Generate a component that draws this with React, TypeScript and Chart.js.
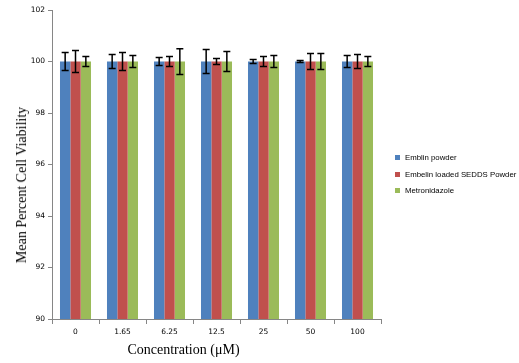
import React, { useEffect, useRef } from "react";
import { Chart, registerables } from "chart.js";

Chart.register(...registerables);

const categories = ["0", "1.65", "6.25", "12.5", "25", "50", "100"];
const seriesNames = ["Emblin powder", "Embelin loaded SEDDS Powder", "Metronidazole"];
const seriesColors = ["#4F81BD", "#C0504D", "#9BBB59"];

const emblinPowder = [100, 100, 100, 100, 100, 100, 100];
const embelinSedds = [100, 100, 100, 100, 100, 100, 100];
const metronidazole = [100, 100, 100, 100, 100, 100, 100];

const emblinPowderErr = [0.35, 0.27, 0.16, 0.47, 0.08, 0.04, 0.23];
const embelinSeddsErr = [0.43, 0.35, 0.19, 0.12, 0.19, 0.31, 0.27];
const metronidazoleErr = [0.19, 0.23, 0.5, 0.39, 0.23, 0.31, 0.19];

const yTicks = [90, 92, 94, 96, 98, 100, 102];

const seriesValues = [emblinPowder, embelinSedds, metronidazole];
const seriesErrors = [emblinPowderErr, embelinSeddsErr, metronidazoleErr];

const errorBarPlugin = {
  id: "errorBars",
  afterDatasetsDraw(chart: any) {
    const ctx = chart.ctx;
    const y = chart.scales.y;
    chart.data.datasets.forEach((ds: any, i: number) => {
      const meta = chart.getDatasetMeta(i);
      meta.data.forEach((bar: any, j: number) => {
        const v = ds.data[j];
        const e = ds.errors[j];
        const x = bar.x;
        const yt = y.getPixelForValue(v + e);
        const yb = y.getPixelForValue(v - e);
        ctx.save();
        ctx.strokeStyle = "#000";
        ctx.lineWidth = 1.5;
        ctx.beginPath();
        ctx.moveTo(x, yt);
        ctx.lineTo(x, yb);
        ctx.moveTo(x - 3.5, yt);
        ctx.lineTo(x + 3.5, yt);
        ctx.moveTo(x - 3.5, yb);
        ctx.lineTo(x + 3.5, yb);
        ctx.stroke();
        ctx.restore();
      });
    });
  },
};

export default function App() {
  const canvasRef = useRef<HTMLCanvasElement | null>(null);

  useEffect(() => {
    document.body.style.margin = "0";
    const tickFont = { family: "'DejaVu Sans', sans-serif", size: 7.5 };
    const chart = new Chart(canvasRef.current as HTMLCanvasElement, {
      type: "bar",
      data: {
        labels: categories,
        datasets: seriesNames.map((name, i) => ({
          label: name,
          data: seriesValues[i],
          errors: seriesErrors[i],
          backgroundColor: seriesColors[i],
          borderWidth: 0,
          barPercentage: 1,
          categoryPercentage: 0.66,
        })) as any,
      },
      options: {
        animation: false,
        responsive: true,
        maintainAspectRatio: false,
        layout: { padding: { top: 10, right: 138, left: 0, bottom: 0 } },
        plugins: { legend: { display: false }, tooltip: { enabled: false } },
        scales: {
          x: {
            grid: {
              offset: true,
              drawOnChartArea: false,
              color: "#868686",
              tickLength: 5,
            },
            border: { color: "#868686" },
            ticks: { color: "#000", font: tickFont, padding: 4 },
            afterFit(scale: any) {
              scale.height = 44;
            },
          },
          y: {
            min: 90,
            max: 102,
            afterBuildTicks(scale: any) {
              scale.ticks = yTicks.map((v) => ({ value: v }));
            },
            grid: {
              drawOnChartArea: false,
              color: "#868686",
              tickLength: 4,
            },
            border: { color: "#868686" },
            ticks: { color: "#000", font: tickFont, padding: 3 },
            afterFit(scale: any) {
              scale.width = 52;
            },
          },
        },
      } as any,
      plugins: [errorBarPlugin],
    });
    return () => chart.destroy();
  }, []);

  const titleFont = "'Liberation Serif', 'Times New Roman', serif";

  return (
    <div style={{ position: "relative", width: 519, height: 363, background: "#fff" }}>
      <canvas ref={canvasRef} />
      <div
        style={{
          position: "absolute",
          left: 183.5,
          top: 350,
          transform: "translate(-50%, -50%)",
          fontFamily: titleFont,
          fontSize: 14,
          whiteSpace: "nowrap",
          color: "#000",
        }}
      >
        Concentration (μM)
      </div>
      <div
        style={{
          position: "absolute",
          left: 22,
          top: 184.5,
          transform: "translate(-50%, -50%) rotate(-90deg)",
          fontFamily: titleFont,
          fontSize: 14,
          whiteSpace: "nowrap",
          color: "#000",
        }}
      >
        Mean Percent Cell Viability
      </div>
      {seriesNames.map((name, i) => (
        <div
          key={name}
          style={{
            position: "absolute",
            left: 395,
            top: 157.5 + i * 16.5 - 6,
            height: 12,
            display: "flex",
            alignItems: "center",
            fontFamily: "'Liberation Sans', Arial, sans-serif",
            fontSize: 7.8,
            whiteSpace: "nowrap",
            color: "#000",
          }}
        >
          <span
            style={{
              display: "inline-block",
              width: 5,
              height: 5,
              background: seriesColors[i],
              marginRight: 5,
            }}
          />
          {name}
        </div>
      ))}
    </div>
  );
}
